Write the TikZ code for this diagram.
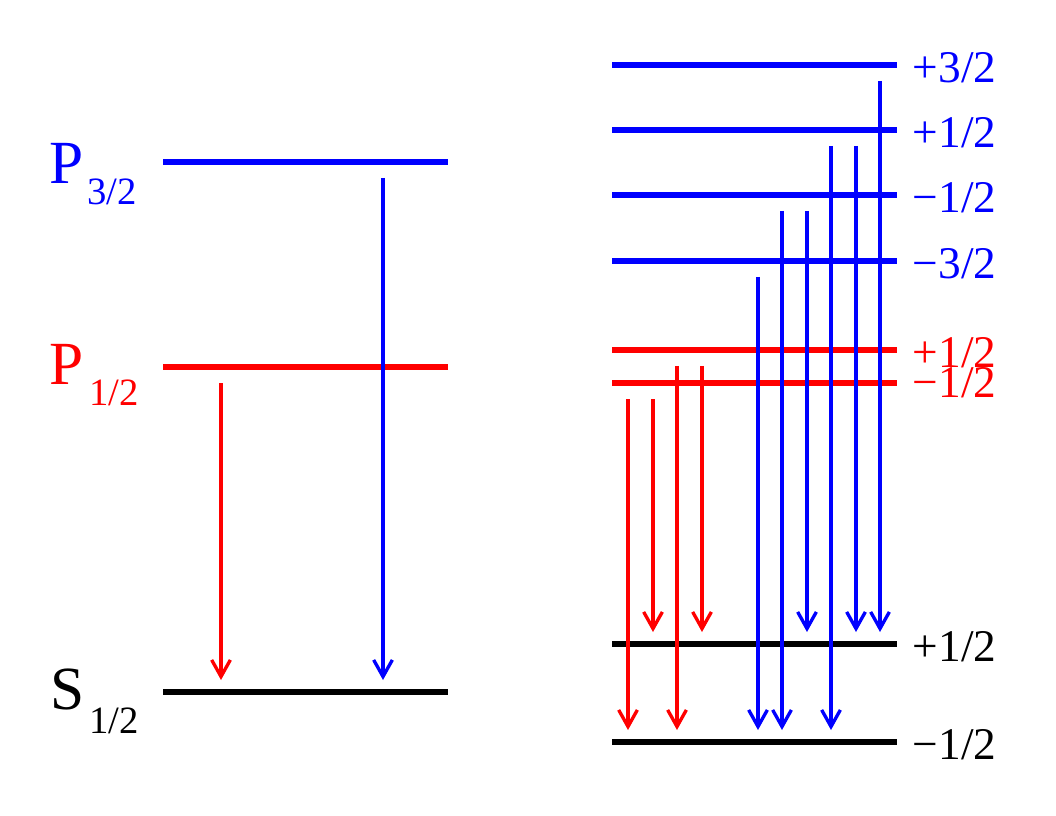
\documentclass[tikz,border=0pt]{standalone}
\usepackage{fontspec}
\setmainfont{Liberation Serif}
\usetikzlibrary{arrows.meta, positioning}
\definecolor{LevelBlue}{HTML}{0000FF}
\definecolor{LevelRed}{HTML}{FF0000}
\definecolor{LevelBlack}{HTML}{000000}
\tikzset{
    % Energy level bar
    level/.style={
        rectangle,
        inner sep=0pt,
        minimum width=213.75pt,
        minimum height=4.8pt
    },
    % Decay arrow style
    decay/.style={
        -{Straight Barb[length=12.5pt,width=14pt]},
        line width=2.5pt,
        shorten <=12pt,
        shorten >=9pt
    },
    % Term symbol
    term/.style={
        anchor=base west,
        inner sep=0pt,
        font=\fontsize{46}{52}\selectfont
    },
    % Term subscript
    termsub/.style={
        anchor=base west,
        inner sep=0pt,
        font=\fontsize{29}{34}\selectfont
    },
    % Sublevel label m_J
    mlabel/.style={
        anchor=base west,
        inner sep=0pt,
        xshift=11.5pt,
        yshift=-13pt,
        font=\fontsize{34}{40}\selectfont
    }
}
\begin{document}
\begin{tikzpicture}[x=0.75pt, y=-0.75pt]
    \useasboundingbox (0,0) rectangle (1056,816);

    % Fine structure levels
    \node (P32) [level, fill=LevelBlue] at (305.5,162) {};
    \node (P12) [level, fill=LevelRed] at (305.5,367) {};
    \node (S12) [level, fill=LevelBlack] at (305.5,692) {};

    \node (tP32) [term, text=LevelBlue] at (49,184) {P};
    \node (sP32) [termsub, text=LevelBlue] at (87,205) {3/2};
    \node (tP12) [term, text=LevelRed] at (49,384) {P};
    \node (sP12) [termsub, text=LevelRed] at (89,405) {1/2};
    \node (tS12) [term, text=LevelBlack] at (50,709) {S};
    \node (sS12) [termsub, text=LevelBlack] at (89,733) {1/2};

    \coordinate (xa) at (221,0);
    \coordinate (xb) at (383,0);
    \draw [decay, LevelRed] (xa |- P12) -- (xa |- S12);
    \draw [decay, LevelBlue] (xb |- P32) -- (xb |- S12);

    % Zeeman sublevels
    \node (P3p3) [level, fill=LevelBlue] at (754.5,65) {};
    \node (P3p1) [level, fill=LevelBlue] at (754.5,130) {};
    \node (P3m1) [level, fill=LevelBlue] at (754.5,195) {};
    \node (P3m3) [level, fill=LevelBlue] at (754.5,261) {};
    \node (P1p1) [level, fill=LevelRed] at (754.5,350) {};
    \node (P1m1) [level, fill=LevelRed] at (754.5,383) {};
    \node (Sp1) [level, fill=LevelBlack] at (754.5,644) {};
    \node (Sm1) [level, fill=LevelBlack] at (754.5,742) {};

    \node [mlabel, text=LevelBlue] at (P3p3.east) {+3/2};
    \node [mlabel, text=LevelBlue] at (P3p1.east) {+1/2};
    \node [mlabel, text=LevelBlue] at (P3m1.east) {−1/2};
    \node [mlabel, text=LevelBlue] at (P3m3.east) {−3/2};
    \node [mlabel, text=LevelRed] at (P1p1.east) {+1/2};
    \node [mlabel, text=LevelRed, yshift=2pt] at (P1m1.east) {−1/2};
    \node [mlabel, text=LevelBlack] at (Sp1.east) {+1/2};
    \node [mlabel, text=LevelBlack] at (Sm1.east) {−1/2};

    \coordinate (x1) at (628,0);
    \coordinate (x2) at (653,0);
    \coordinate (x3) at (677,0);
    \coordinate (x4) at (702,0);
    \coordinate (x5) at (758,0);
    \coordinate (x6) at (782,0);
    \coordinate (x7) at (807,0);
    \coordinate (x8) at (831,0);
    \coordinate (x9) at (856,0);
    \coordinate (x10) at (880,0);

    \draw [decay, LevelRed] (x1 |- P1m1) -- (x1 |- Sm1);
    \draw [decay, LevelRed] (x2 |- P1m1) -- (x2 |- Sp1);
    \draw [decay, LevelRed] (x3 |- P1p1) -- (x3 |- Sm1);
    \draw [decay, LevelRed] (x4 |- P1p1) -- (x4 |- Sp1);

    \draw [decay, LevelBlue] (x5 |- P3m3) -- (x5 |- Sm1);
    \draw [decay, LevelBlue] (x6 |- P3m1) -- (x6 |- Sm1);
    \draw [decay, LevelBlue] (x7 |- P3m1) -- (x7 |- Sp1);
    \draw [decay, LevelBlue] (x8 |- P3p1) -- (x8 |- Sm1);
    \draw [decay, LevelBlue] (x9 |- P3p1) -- (x9 |- Sp1);
    \draw [decay, LevelBlue] (x10 |- P3p3) -- (x10 |- Sp1);
\end{tikzpicture}
\end{document}
